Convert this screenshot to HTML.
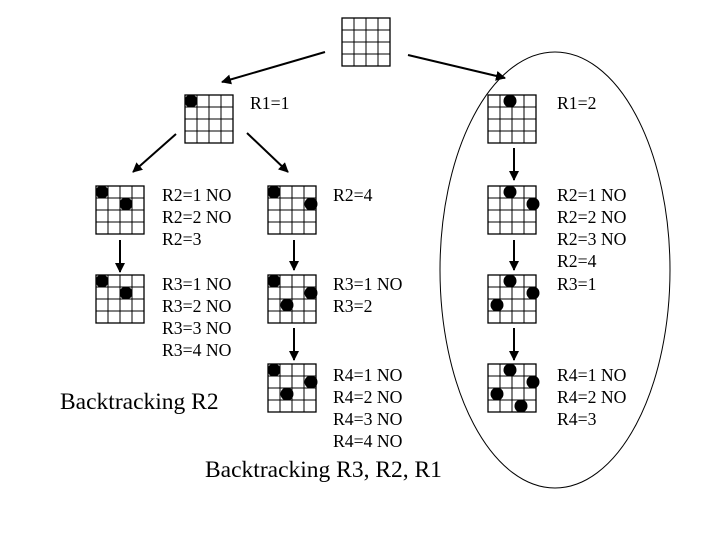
<!DOCTYPE html>
<html><head><style>
body{margin:0;background:#fff;}
svg text{font-family:"Liberation Serif",serif;font-size:17.7px;fill:#000;}
</style></head><body>
<svg width="720" height="540" xmlns="http://www.w3.org/2000/svg">
<defs>
<marker id="a" markerWidth="10" markerHeight="10" refX="9" refY="5" orient="auto" markerUnits="userSpaceOnUse">
<path d="M0,0 L10,5 L0,10 z" fill="#000"/></marker>
<g id="g">
<rect x="0" y="0" width="48" height="48" fill="#fff" stroke="#000" stroke-width="1.3"/>
<path d="M12,0V48M24,0V48M36,0V48M0,12H48M0,24H48M0,36H48" stroke="#000" stroke-width="1"/>
</g>
</defs>
<ellipse cx="555" cy="270" rx="115" ry="218" fill="none" stroke="#000" stroke-width="1"/>
<g stroke="#000" stroke-width="2" marker-end="url(#a)">
<line x1="325" y1="52" x2="222" y2="82"/>
<line x1="408" y1="55" x2="505" y2="78"/>
<line x1="176" y1="134" x2="133" y2="172"/>
<line x1="247" y1="133" x2="288" y2="172"/>
<line x1="120" y1="240" x2="120" y2="272"/>
<line x1="294" y1="240" x2="294" y2="270"/>
<line x1="294" y1="328" x2="294" y2="360"/>
<line x1="514" y1="148" x2="514" y2="180"/>
<line x1="514" y1="240" x2="514" y2="270"/>
<line x1="514" y1="328" x2="514" y2="360"/>
</g>
<use href="#g" x="342" y="18"/>
<use href="#g" x="185" y="95"/>
<use href="#g" x="96" y="186"/>
<use href="#g" x="96" y="275"/>
<use href="#g" x="268" y="186"/>
<use href="#g" x="268" y="275"/>
<use href="#g" x="268" y="364"/>
<use href="#g" x="488" y="95"/>
<use href="#g" x="488" y="186"/>
<use href="#g" x="488" y="275"/>
<use href="#g" x="488" y="364"/>
<g fill="#000">
<circle cx="191" cy="101" r="6.5"/>
<circle cx="102" cy="192" r="6.5"/><circle cx="126" cy="204" r="6.5"/>
<circle cx="102" cy="281" r="6.5"/><circle cx="126" cy="293" r="6.5"/>
<circle cx="274" cy="192" r="6.5"/><circle cx="311" cy="204" r="6.5"/>
<circle cx="274" cy="281" r="6.5"/><circle cx="311" cy="293" r="6.5"/><circle cx="287" cy="305" r="6.5"/>
<circle cx="274" cy="370" r="6.5"/><circle cx="311" cy="382" r="6.5"/><circle cx="287" cy="394" r="6.5"/>
<circle cx="510" cy="101" r="6.5"/>
<circle cx="510" cy="192" r="6.5"/><circle cx="533" cy="204" r="6.5"/>
<circle cx="510" cy="281" r="6.5"/><circle cx="533" cy="293" r="6.5"/><circle cx="497" cy="305" r="6.5"/>
<circle cx="510" cy="370" r="6.5"/><circle cx="533" cy="382" r="6.5"/><circle cx="497" cy="394" r="6.5"/><circle cx="521" cy="406" r="6.5"/>
</g>
<text x="250" y="109">R1=1</text>
<text x="557" y="109">R1=2</text>
<text x="162" y="201">R2=1 NO</text><text x="162" y="223">R2=2 NO</text><text x="162" y="245">R2=3</text>
<text x="162" y="290">R3=1 NO</text><text x="162" y="312">R3=2 NO</text><text x="162" y="334">R3=3 NO</text><text x="162" y="356">R3=4 NO</text>
<text x="333" y="201">R2=4</text>
<text x="333" y="290">R3=1 NO</text><text x="333" y="312">R3=2</text>
<text x="333" y="381">R4=1 NO</text><text x="333" y="403">R4=2 NO</text><text x="333" y="425">R4=3 NO</text><text x="333" y="447">R4=4 NO</text>
<text x="557" y="201">R2=1 NO</text><text x="557" y="223">R2=2 NO</text><text x="557" y="245">R2=3 NO</text><text x="557" y="267">R2=4</text><text x="557" y="290">R3=1</text>
<text x="557" y="381">R4=1 NO</text><text x="557" y="403">R4=2 NO</text><text x="557" y="425">R4=3</text>
<text x="60" y="409" style="font-size:23.5px">Backtracking R2</text>
<text x="205" y="477" style="font-size:23.5px">Backtracking R3, R2, R1</text>
</svg>
</body></html>
